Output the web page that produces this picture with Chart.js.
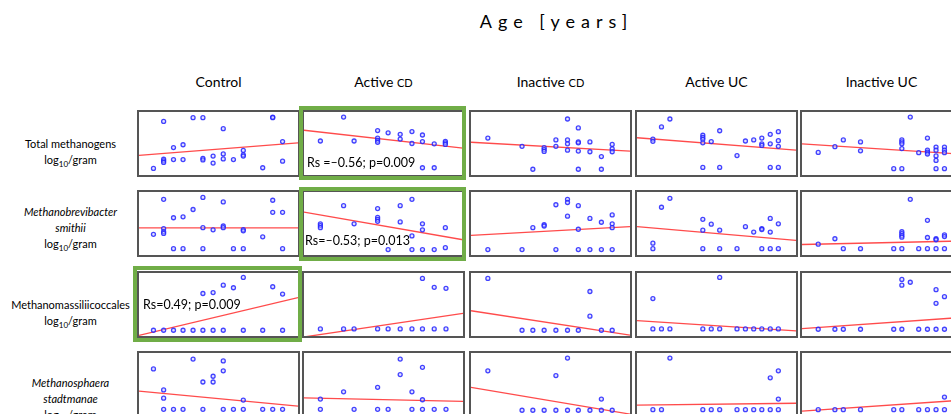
<!DOCTYPE html>
<html>
<head>
<meta charset="utf-8">
<script src="https://cdn.jsdelivr.net/npm/chart.js@4"></script>
<style>
body { margin: 0; width: 951px; height: 414px; overflow: hidden; background: #fff; position: relative; font-family: Lato, "Open Sans", sans-serif; color: #000; }
.title { position: absolute; top: 10px; left: 0; width: 1113px; text-align: center; font-size: 18px; letter-spacing: 6px; }
.colhead { position: absolute; top: 73px; width: 166px; text-align: center; font-size: 14px; line-height: 18px; }
.colhead small { font-size: 11px; }
.rowlab { position: absolute; left: 0; width: 141px; text-align: center; font-size: 11px; line-height: 16px; }
.rowlab sub { font-size: 8px; line-height: 0; }
.panel { position: absolute; border: 2px solid #555; box-sizing: border-box; background: #fff; }
.panel canvas { display: block; }
.green { position: absolute; border: 4px solid #70ad47; box-sizing: border-box; }
.stat { position: absolute; font-size: 12.5px; line-height: 16px; white-space: nowrap; }
</style>
</head>
<body>
<div class="title">Age [years]</div>
<div id="grid"></div>

<script>
// Values: x = age, y = log10/gram, both scaled 0..100 per panel
const groups = ['Control', 'Active CD', 'Inactive CD', 'Active UC', 'Inactive UC'];

// Total methanogens
const totalControl = [[15.5,85],[34,91],[40.2,91],[84.1,92],[84.1,91],[53,73.5],[90.3,53],[21.7,43.5],[27.7,48],[65.6,39],[53,33.5],[65.6,32],[65.6,30],[46.6,30],[40.2,26.5],[40.2,24],[15.5,25],[15.5,22.5],[15.5,20],[21.7,24.5],[27.7,24.5],[53,25.5],[59.4,24.5],[46.6,19],[90.3,22],[9.1,10.5],[77.8,11.5]];
const totalActiveCD = [[24.9,92],[10.3,54],[31.5,54],[46.3,70.5],[46.3,58.5],[46.3,55],[46.3,52],[52.9,67],[60.5,64.5],[60.5,57],[67.9,69],[67.9,50],[74.5,63.5],[74.5,53],[81.9,49.5],[88.9,53.5],[88.9,51],[88.9,48.5],[74.5,11.5],[81.9,11.5]];
const totalInactiveCD = [[10.6,58.6],[32.1,45.5],[38.9,9.1],[46,43.4],[46,40.4],[46,37.4],[53.4,55.6],[53.4,45.5],[60.7,88.9],[60.7,55.6],[60.7,49.5],[60.7,39.4],[67.5,74.7],[67.5,52.5],[67.5,51],[67.5,37.9],[67.5,9.1],[74.8,52.5],[74.8,36.9],[82,29.3],[82,9.1],[88.8,48.5],[88.8,41.4],[88.8,36.9]];
const totalActiveUC = [[20.7,88.9],[15.4,76.3],[10,57.1],[10,53.5],[41.4,63.1],[41.4,59.6],[41.4,56.6],[41.4,51],[46.7,53],[52,70.2],[62.9,30.8],[68.2,54],[73.4,55.6],[78.5,58.6],[78.5,49.5],[78.5,47],[83.8,64.6],[83.8,49.5],[88.9,68.7],[88.9,54.5],[88.9,45.5],[41.4,12.1],[52,12.1],[83.8,12.1],[88.9,12.1]];
const totalInactiveUC = [[10.2,35.9],[20.7,44.9],[26,55.6],[36.8,52.5],[36.8,38.4],[57.7,10.1],[62.8,55.6],[62.8,52.5],[62.8,49.5],[62.8,41.9],[62.8,10.1],[68.1,91.9],[73.4,35.4],[78.9,58.6],[78.9,39.4],[78.9,36.4],[78.9,33.3],[84.3,44.4],[84.3,39.4],[84.3,30.3],[84.3,23.2],[84.3,10.1],[89.6,44.4],[89.6,39.4],[89.6,35.4],[89.6,10.1]];
const totalTrend = [[31,51],[71,42.5],[52,37.9],[59.1,39.4],[49.5,33]];

// Methanobrevibacter smithii
const smithiiControl = [[15.5,88.4],[40.2,91.4],[53,84.3],[84.1,86.9],[34,72.2],[21.7,59.1],[27.7,60.6],[84.1,67.7],[90.3,67.7],[15.5,41.9],[15.5,36.9],[15.5,34.3],[9.1,32.8],[40.2,43.4],[46.6,39.9],[53,46],[53,43.4],[65.6,40.4],[65.6,38.4],[77.8,28.8],[21.7,10.1],[27.7,10.1],[40.2,10.1],[59.4,10.1],[65.6,10.1],[90.3,10.1]];
const smithiiActiveCD = [[24.9,78.3],[46.3,73.7],[46.3,59.6],[46.3,56.6],[46.3,53.5],[60.5,78.3],[67.9,88.4],[10.3,49.5],[10.3,46.5],[10.3,43.4],[31.5,49.5],[60.5,52.5],[74.5,49.5],[74.5,39.9],[67.9,30.3],[88.9,43.4],[52.9,8.6],[67.9,8.6],[74.5,8.6],[81.9,8.6],[88.9,11.6]];
const smithiiInactiveCD = [[10.6,8.6],[32.1,8.6],[38.9,43.4],[46,48],[46,46],[53.4,79.8],[60.7,88.4],[60.7,83.3],[67.5,78.3],[60.7,61.6],[74.8,58.1],[82,52],[88.8,63.6],[88.8,49.5],[88.8,43.4],[67.5,40.9],[53.4,8.6],[67.5,8.6],[74.8,8.6],[82,8.6],[88.8,8.6]];
const smithiiActiveUC = [[20.7,89.9],[15.4,75.8],[10,18.7],[10,10.1],[41.4,56.6],[41.4,39.4],[46.7,49],[52,39.4],[68.2,44.9],[73.4,36.4],[78.5,41.9],[78.5,40.5],[83.8,58.1],[83.8,36.4],[88.9,49.5],[41.4,10.1],[52,10.1],[62.9,10.1],[78.5,10.1],[83.8,10.1],[88.9,10.1]];
const smithiiInactiveUC = [[10.2,17.2],[20.7,25.8],[26,10.1],[36.8,10.1],[57.7,10.1],[62.8,36.9],[62.8,33.8],[62.8,30.8],[62.8,28.3],[62.8,10.1],[68.1,88.4],[73.4,10.1],[78.9,55.1],[78.9,27.8],[78.9,10.1],[84.3,25.8],[84.3,24.2],[84.3,10.1],[89.6,31.8],[89.6,29.3],[89.6,10.1]];
const smithiiTrend = [[42.9,42.9],[68.2,24.2],[31.3,44.9],[44.9,23.2],[16.7,22.2]];

// Methanomassiliicoccales
const massControl = [[40.2,67.5],[46.6,69],[53,80.7],[59.4,76.6],[65.6,92.9],[84.1,78.2],[90.3,66.5],[9.1,9.1],[15.5,9.1],[21.7,9.1],[27.7,9.1],[34,9.1],[40.2,9.1],[46.6,9.1],[53,9.1],[65.6,9.1],[77.8,9.1],[90.3,9.1]];
const massActiveCD = [[74.5,91.4],[81.9,77.2],[89.3,75.6],[10.3,11.2],[24.9,11.2],[31.5,11.2],[46.3,11.2],[52.9,11.2],[60.5,11.2],[67.9,11.2],[74.5,11.2],[81.9,11.2],[89.3,11.2]];
const massInactiveCD = [[10.6,91.4],[74.8,70.6],[74.8,31.5],[32.1,9.1],[38.9,9.1],[46,9.1],[53.4,9.1],[60.7,9.1],[67.5,9.1],[82,9.1],[88.8,9.1]];
const massActiveUC = [[52,92.9],[10,59.4],[10,11.2],[15.4,11.2],[20.7,11.2],[41.4,11.2],[46.7,11.2],[52,11.2],[62.9,11.2],[68.2,11.2],[73.4,11.2],[78.5,11.2],[83.8,11.2],[88.9,11.2]];
const massInactiveUC = [[62.8,89.8],[62.8,80.7],[68.1,85.3],[84.3,73.6],[84.3,51.8],[89.6,62.4],[10.2,10.7],[20.7,10.7],[26,10.7],[36.8,10.7],[57.7,10.7],[62.8,10.7],[73.4,10.7],[78.9,10.7],[84.3,10.7],[89.6,10.7]];
const massTrend = [[1,61],[-1.5,36],[40.1,1.5],[24.4,8.1],[11.7,29.4]];

// Methanosphaera stadtmanae
const stadtControl = [[9.1,74.7],[34,90.4],[53,87.4],[53,71.7],[46.6,63.1],[40.2,54],[46.6,54],[15.5,41.4],[15.5,28.3],[65.6,25.3],[15.5,10.6],[21.7,10.6],[27.7,10.6],[40.2,10.6],[53,10.6],[59.4,10.6],[65.6,10.6],[77.8,10.6],[84.1,10.6],[90.3,10.6]];
const stadtActiveCD = [[60.5,90.4],[74.5,77.3],[60.5,65.7],[46.3,45.5],[24.9,38.4],[67.9,38.4],[10.3,26.8],[74.5,25.8],[10.3,10.6],[31.5,10.6],[46.3,10.6],[52.9,10.6],[67.9,10.6],[74.5,10.6],[81.9,10.6],[89.3,10.6]];
const stadtInactiveCD = [[10.6,71.7],[60.7,91.9],[53.4,64.1],[82,26.8],[32.1,9.1],[38.9,9.1],[46,9.1],[53.4,9.1],[60.7,9.1],[67.5,9.1],[74.8,9.1],[82,9.1],[88.8,9.1]];
const stadtActiveUC = [[20.7,91.9],[88.9,71.7],[83.8,60.6],[88.9,26.8],[10,10.1],[15.4,10.1],[41.4,10.1],[46.7,10.1],[52,10.1],[62.9,10.1],[68.2,10.1],[73.4,10.1],[78.5,10.1],[83.8,10.1],[88.9,10.1]];
const stadtInactiveUC = [[10.2,10],[20.7,10],[26,10],[36.8,10],[57.7,10],[62.8,10],[73.4,10],[78.9,10],[84.3,10],[89.6,10],[89.6,30]];
const stadtTrend = [[39.4,15.7],[28.8,23.2],[45.5,3],[17.2,20.2],[7.6,25]];

const rows = [
    { label: 'Total methanogens<br>log<sub>10</sub>/gram', top: 136, panels: [totalControl, totalActiveCD, totalInactiveCD, totalActiveUC, totalInactiveUC], trend: totalTrend },
    { label: '<i>Methanobrevibacter<br>smithii</i><br>log<sub>10</sub>/gram', top: 204, panels: [smithiiControl, smithiiActiveCD, smithiiInactiveCD, smithiiActiveUC, smithiiInactiveUC], trend: smithiiTrend },
    { label: 'Methanomassiliicoccales<br>log<sub>10</sub>/gram', top: 297, panels: [massControl, massActiveCD, massInactiveCD, massActiveUC, massInactiveUC], trend: massTrend },
    { label: '<i>Methanosphaera<br>stadtmanae</i><br>log<sub>10</sub>/gram', top: 375, panels: [stadtControl, stadtActiveCD, stadtInactiveCD, stadtActiveUC, stadtInactiveUC], trend: stadtTrend }
];

// layout of the grid
const colLeft = [137, 302, 469, 635, 800];
const rowTop = [110, 190, 271, 351];
const panelW = 163, panelH = 67;

const grid = document.getElementById('grid');

groups.forEach((g, c) => {
    const h = document.createElement('div');
    h.className = 'colhead';
    h.style.left = (colLeft[c] + panelW / 2 - 83) + 'px';
    h.innerHTML = g.replace(' CD', ' <small>CD</small>');
    grid.appendChild(h);
});

rows.forEach((row, r) => {
    const lab = document.createElement('div');
    lab.className = 'rowlab';
    lab.style.top = row.top + 'px';
    lab.innerHTML = row.label;
    grid.appendChild(lab);

    row.panels.forEach((pts, c) => {
        const box = document.createElement('div');
        box.className = 'panel';
        box.style.left = colLeft[c] + 'px';
        box.style.top = rowTop[r] + 'px';
        box.style.width = panelW + 'px';
        box.style.height = panelH + 'px';
        const cv = document.createElement('canvas');
        cv.width = panelW - 4;
        cv.height = panelH - 4;
        box.appendChild(cv);
        grid.appendChild(box);

        const t = row.trend[c];
        new Chart(cv, {
            type: 'scatter',
            data: {
                datasets: [
                    {
                        type: 'line',
                        data: [{ x: 0, y: t[0] }, { x: 100, y: t[1] }],
                        borderColor: 'rgba(255, 30, 30, 0.8)',
                        borderWidth: 1.3,
                        pointRadius: 0,
                        fill: false,
                        order: 2
                    },
                    {
                        data: pts.map(p => ({ x: p[0], y: p[1] })),
                        pointRadius: 2,
                        pointBorderWidth: 1.3,
                        borderColor: 'rgba(35, 35, 255, 0.85)',
                        backgroundColor: 'rgba(200, 200, 255, 0.5)',
                        order: 1
                    }
                ]
            },
            options: {
                responsive: false,
                animation: false,
                events: [],
                layout: { padding: 0, autoPadding: false },
                scales: {
                    x: { type: 'linear', display: false, min: 0, max: 100 },
                    y: { display: false, min: 0, max: 100 }
                },
                plugins: { legend: { display: false }, tooltip: { enabled: false } }
            }
        });
    });
});

// significant panels get a green frame
const highlights = [
    { left: 299, top: 106, width: 167, height: 74, text: 'Rs =\u20130.56; p=0.009', tx: 307, ty: 155 },
    { left: 299, top: 187, width: 167, height: 74, text: 'Rs=\u20130.53; p=0.013', tx: 305, ty: 233 },
    { left: 133, top: 266, width: 169, height: 76, text: 'Rs=0.49; p=0.009', tx: 143, ty: 297 }
];
highlights.forEach(hl => {
    const g = document.createElement('div');
    g.className = 'green';
    g.style.left = hl.left + 'px';
    g.style.top = hl.top + 'px';
    g.style.width = hl.width + 'px';
    g.style.height = hl.height + 'px';
    grid.appendChild(g);
    const s = document.createElement('div');
    s.className = 'stat';
    s.style.left = hl.tx + 'px';
    s.style.top = hl.ty + 'px';
    s.textContent = hl.text;
    grid.appendChild(s);
});
</script>
</body>
</html>
